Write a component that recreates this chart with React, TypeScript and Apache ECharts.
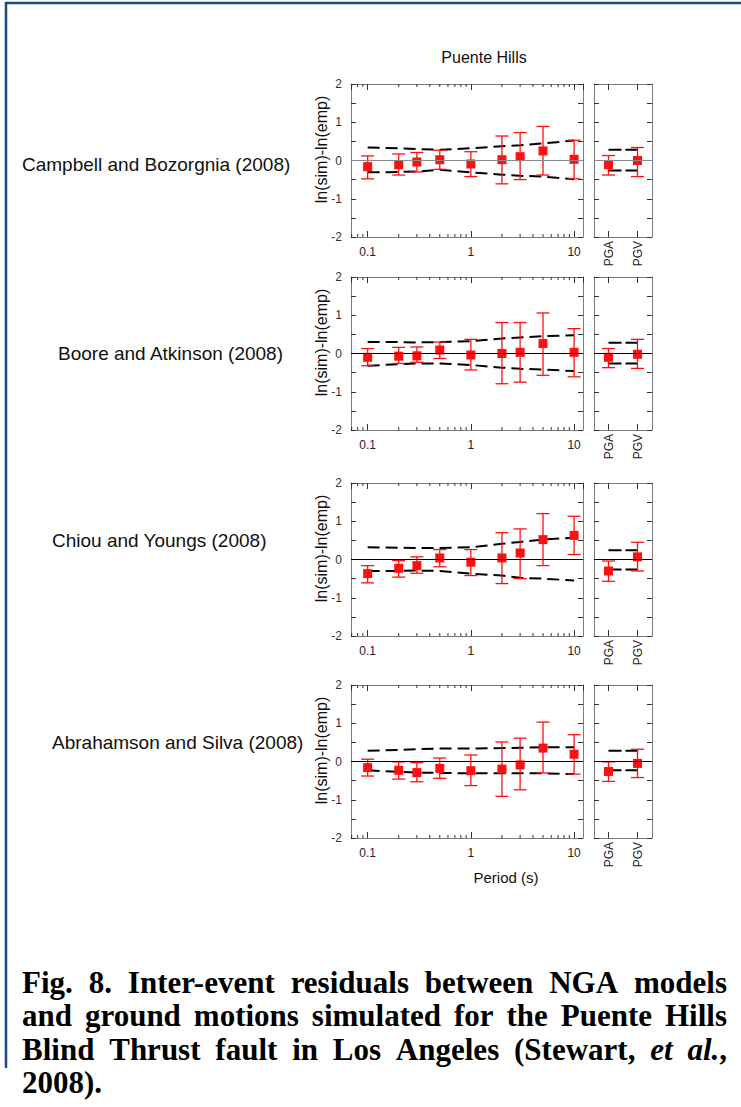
import React, { useEffect, useRef } from "react";
import * as echarts from "echarts";

// ---------- data ----------
const periods = [0.1, 0.2, 0.3, 0.5, 1, 2, 3, 5, 10];
const pgaCategories = ["PGA", "PGV"];
const minorTickValues = [0.07, 0.08, 0.09, 0.2, 0.3, 0.4, 0.5, 0.6, 0.7, 0.8, 0.9, 2, 3, 4, 5, 6, 7, 8, 9];
const modelNames = [
  "Campbell and Bozorgnia (2008)",
  "Boore and Atkinson (2008)",
  "Chiou and Youngs (2008)",
  "Abrahamson and Silva (2008)",
];
const chartTitle = "Puente Hills";
const yAxisTitle = "ln(sim)-ln(emp)";
const xAxisTitle = "Period (s)";
const captionLines = [
  "Fig. 8. Inter-event residuals between NGA models",
  "and ground motions simulated for the Puente Hills",
  "Blind Thrust fault in Los Angeles (Stewart, *et* *al.*,",
  "2008).",
];

// Campbell & Bozorgnia
const cbMean = [-0.16, -0.11, -0.04, 0.02, -0.09, 0.02, 0.10, 0.25, 0.03];
const cbUpper = [0.12, 0.17, 0.21, 0.27, 0.23, 0.64, 0.73, 0.89, 0.53];
const cbLower = [-0.48, -0.38, -0.30, -0.23, -0.42, -0.61, -0.50, -0.38, -0.48];
const cbSigmaUp = [0.34, 0.32, 0.30, 0.28, 0.32, 0.37, 0.40, 0.45, 0.52];
const cbSigmaDn = [-0.31, -0.30, -0.29, -0.24, -0.31, -0.37, -0.40, -0.42, -0.49];
const cbPgaMean = [-0.11, 0.0];
const cbPgaUpper = [0.13, 0.34];
const cbPgaLower = [-0.38, -0.42];
const cbPgaSigmaUp = [0.28, 0.28];
const cbPgaSigmaDn = [-0.26, -0.26];

// Boore & Atkinson
const baMean = [-0.10, -0.07, -0.06, 0.09, -0.04, 0.0, 0.03, 0.26, 0.03];
const baUpper = [0.13, 0.16, 0.17, 0.30, 0.37, 0.81, 0.81, 1.06, 0.65];
const baLower = [-0.32, -0.26, -0.23, -0.13, -0.43, -0.79, -0.75, -0.57, -0.61];
const baSigmaUp = [0.30, 0.30, 0.29, 0.30, 0.32, 0.39, 0.42, 0.45, 0.48];
const baSigmaDn = [-0.32, -0.28, -0.26, -0.26, -0.30, -0.37, -0.40, -0.42, -0.46];
const baPgaMean = [-0.10, -0.02];
const baPgaUpper = [0.13, 0.37];
const baPgaLower = [-0.37, -0.39];
const baPgaSigmaUp = [0.28, 0.28];
const baPgaSigmaDn = [-0.26, -0.26];

// Chiou & Youngs
const cyMean = [-0.37, -0.23, -0.16, 0.04, -0.07, 0.04, 0.17, 0.52, 0.63];
const cyUpper = [-0.16, -0.03, 0.07, 0.26, 0.26, 0.70, 0.80, 1.20, 1.13];
const cyLower = [-0.61, -0.46, -0.36, -0.19, -0.42, -0.63, -0.50, -0.16, 0.13];
const cySigmaUp = [0.32, 0.31, 0.30, 0.30, 0.32, 0.41, 0.46, 0.52, 0.57];
const cySigmaDn = [-0.30, -0.30, -0.29, -0.30, -0.37, -0.42, -0.48, -0.50, -0.55];
const cyPgaMean = [-0.30, 0.07];
const cyPgaUpper = [-0.04, 0.45];
const cyPgaLower = [-0.57, -0.30];
const cyPgaSigmaUp = [0.24, 0.24];
const cyPgaSigmaDn = [-0.26, -0.26];

// Abrahamson & Silva
const asMean = [-0.16, -0.23, -0.29, -0.18, -0.24, -0.20, -0.09, 0.35, 0.19];
const asUpper = [0.06, -0.01, -0.03, 0.09, 0.17, 0.51, 0.61, 1.03, 0.70];
const asLower = [-0.38, -0.46, -0.53, -0.44, -0.63, -0.91, -0.74, -0.30, -0.33];
const asSigmaUp = [0.28, 0.30, 0.32, 0.34, 0.34, 0.35, 0.36, 0.37, 0.37];
const asSigmaDn = [-0.23, -0.27, -0.29, -0.30, -0.31, -0.31, -0.31, -0.31, -0.33];
const asPgaMean = [-0.26, -0.05];
const asPgaUpper = [-0.01, 0.32];
const asPgaLower = [-0.52, -0.42];
const asPgaSigmaUp = [0.28, 0.28];
const asPgaSigmaDn = [-0.23, -0.23];

// ---------- layout / style ----------
const FONT = '"Liberation Sans", Arial, sans-serif';
const SERIF = '"Liberation Serif", "Times New Roman", serif';
const ROW_TOPS = [84, 277, 483, 685];
const PANEL_H = 153;
const MAIN_LEFT = 351;
const MAIN_W = 232;
const PGA_LEFT = 594;
const PGA_W = 58;
const LABEL_POS = [
  [22, 164],
  [58, 353],
  [52, 540],
  [52, 742],
];
const Y_NAME_X = 321;
const Y_NAME_SHIFT = -11;
const ZERO_COLORS = ["#8a8a8a", "#000", "#000", "#000"];
const AXIS_COLOR = "#7a7a7a";
const TICK_COLOR = "#333";
const RED = "#ff1010";
const CAPTION_SIZE = 31;

const rows = [
  { mean: cbMean, upper: cbUpper, lower: cbLower, su: cbSigmaUp, sd: cbSigmaDn, pm: cbPgaMean, pu: cbPgaUpper, pl: cbPgaLower, psu: cbPgaSigmaUp, psd: cbPgaSigmaDn },
  { mean: baMean, upper: baUpper, lower: baLower, su: baSigmaUp, sd: baSigmaDn, pm: baPgaMean, pu: baPgaUpper, pl: baPgaLower, psu: baPgaSigmaUp, psd: baPgaSigmaDn },
  { mean: cyMean, upper: cyUpper, lower: cyLower, su: cySigmaUp, sd: cySigmaDn, pm: cyPgaMean, pu: cyPgaUpper, pl: cyPgaLower, psu: cyPgaSigmaUp, psd: cyPgaSigmaDn },
  { mean: asMean, upper: asUpper, lower: asLower, su: asSigmaUp, sd: asSigmaDn, pm: asPgaMean, pu: asPgaUpper, pl: asPgaLower, psu: asPgaSigmaUp, psd: asPgaSigmaDn },
];

function errorBarRender(params: any, api: any) {
  const x = api.value(0);
  const lo = api.coord([x, api.value(1)]);
  const hi = api.coord([x, api.value(2)]);
  const w = 6.5;
  const style = { stroke: RED, lineWidth: 1.3 };
  return {
    type: "group",
    children: [
      { type: "line", shape: { x1: lo[0], y1: lo[1], x2: hi[0], y2: hi[1] }, style },
      { type: "line", shape: { x1: hi[0] - w, y1: hi[1], x2: hi[0] + w, y2: hi[1] }, style },
      { type: "line", shape: { x1: lo[0] - w, y1: lo[1], x2: lo[0] + w, y2: lo[1] }, style },
    ],
  };
}

function minorTickRender(params: any, api: any) {
  const v = api.value(0);
  const b = api.coord([v, -2]);
  const t = api.coord([v, 2]);
  const style = { stroke: TICK_COLOR, lineWidth: 1 };
  return {
    type: "group",
    children: [
      { type: "line", shape: { x1: b[0], y1: b[1], x2: b[0], y2: b[1] - 3 }, style },
      { type: "line", shape: { x1: t[0], y1: t[1], x2: t[0], y2: t[1] + 3 }, style },
    ],
  };
}

function buildCaption(): any[] {
  const canvas = document.createElement("canvas");
  const ctx = canvas.getContext("2d") as CanvasRenderingContext2D;
  const size = CAPTION_SIZE;
  const x0 = 22;
  const x1 = 727;
  const ys = [982, 1015, 1049, 1082];
  const els: any[] = [];
  captionLines.forEach((line, li) => {
    const words = line.split(" ").map((w) => {
      const segs: { text: string; italic: boolean }[] = [];
      w.split("*").forEach((s, i) => {
        if (s.length) segs.push({ text: s, italic: i % 2 === 1 });
      });
      return segs.map((s) => {
        ctx.font = `${s.italic ? "italic " : ""}bold ${size}px ${SERIF}`;
        return { ...s, width: ctx.measureText(s.text).width };
      });
    });
    const wordWidths = words.map((segs) => segs.reduce((a, s) => a + s.width, 0));
    const total = wordWidths.reduce((a, b) => a + b, 0);
    const last = li === captionLines.length - 1;
    ctx.font = `bold ${size}px ${SERIF}`;
    const gap = last || words.length < 2 ? ctx.measureText(" ").width : (x1 - x0 - total) / (words.length - 1);
    let x = x0;
    words.forEach((segs) => {
      segs.forEach((s) => {
        els.push({
          type: "text",
          x,
          y: ys[li],
          style: {
            text: s.text,
            fontSize: size,
            fontWeight: "bold",
            fontStyle: s.italic ? "italic" : "normal",
            fontFamily: SERIF,
            fill: "#000",
            textAlign: "left",
            textVerticalAlign: "middle",
          },
        });
        x += s.width;
      });
      x += gap;
    });
  });
  return els;
}

function buildOption(): any {
  const grid: any[] = [];
  const xAxis: any[] = [];
  const yAxis: any[] = [];
  const series: any[] = [];

  const logAxis = (gi: number, pos: string, labels: boolean) => ({
    gridIndex: gi,
    type: "log",
    logBase: 10,
    min: 0.069,
    max: 12.2,
    position: pos,
    axisLine: { show: true, onZero: false, lineStyle: { color: AXIS_COLOR, width: 1 } },
    axisTick: { show: true, inside: true, length: 6, lineStyle: { color: TICK_COLOR } },
    axisLabel: {
      show: labels,
      showMinLabel: false,
      showMaxLabel: false,
      fontSize: 12,
      color: "#222",
      margin: 9,
      fontFamily: FONT,
    },
    splitLine: { show: false },
  });
  const catAxis = (gi: number, pos: string, labels: boolean) => ({
    gridIndex: gi,
    type: "category",
    data: pgaCategories,
    boundaryGap: true,
    position: pos,
    axisLine: { show: true, onZero: false, lineStyle: { color: AXIS_COLOR, width: 1 } },
    axisTick: { show: true, inside: true, length: 6, alignWithLabel: true, lineStyle: { color: TICK_COLOR } },
    axisLabel: { show: labels, rotate: 90, fontSize: 12, color: "#222", margin: 4, fontFamily: FONT },
    splitLine: { show: false },
  });
  const valAxis = (gi: number, pos: string, labels: boolean) => ({
    gridIndex: gi,
    type: "value",
    min: -2,
    max: 2,
    interval: 0.5,
    position: pos,
    axisLine: { show: true, onZero: false, lineStyle: { color: AXIS_COLOR, width: 1 } },
    axisTick: { show: true, inside: true, length: 5, lineStyle: { color: TICK_COLOR } },
    axisLabel: {
      show: labels,
      fontSize: 12,
      color: "#333",
      margin: 9,
      fontFamily: FONT,
      formatter: (v: number) => (Number.isInteger(v) ? String(v) : ""),
    },
    splitLine: { show: false },
  });

  rows.forEach((row, r) => {
    const gMain = 2 * r;
    const gPga = 2 * r + 1;
    grid.push({ left: MAIN_LEFT, top: ROW_TOPS[r], width: MAIN_W, height: PANEL_H, containLabel: false, outerBoundsMode: "none" });
    grid.push({ left: PGA_LEFT, top: ROW_TOPS[r], width: PGA_W, height: PANEL_H, containLabel: false, outerBoundsMode: "none" });

    xAxis.push(logAxis(gMain, "bottom", true));
    xAxis.push(logAxis(gMain, "top", false));
    xAxis.push(catAxis(gPga, "bottom", true));
    xAxis.push(catAxis(gPga, "top", false));

    yAxis.push(valAxis(gMain, "left", true));
    yAxis.push(valAxis(gMain, "right", false));
    yAxis.push(valAxis(gPga, "left", false));
    yAxis.push(valAxis(gPga, "right", false));

    const xm = 4 * r;
    const xp = 4 * r + 2;
    const zeroLine = {
      silent: true,
      symbol: "none",
      label: { show: false },
      lineStyle: { color: ZERO_COLORS[r], width: 1, type: "solid" },
      data: [{ yAxis: 0 }],
    };
    const dash = { color: "#000", width: 2, type: [12, 6] };

    // main panel
    series.push({
      type: "line",
      xAxisIndex: xm,
      yAxisIndex: xm,
      data: periods.map((p, i) => [p, row.su[i]]),
      symbol: "none",
      lineStyle: dash,
      z: 2,
      markLine: zeroLine,
    });
    series.push({
      type: "line",
      xAxisIndex: xm,
      yAxisIndex: xm,
      data: periods.map((p, i) => [p, row.sd[i]]),
      symbol: "none",
      lineStyle: dash,
      z: 2,
    });
    series.push({
      type: "custom",
      xAxisIndex: xm,
      yAxisIndex: xm,
      renderItem: errorBarRender,
      data: periods.map((p, i) => [p, row.lower[i], row.upper[i]]),
      encode: { x: 0, y: [1, 2] },
      z: 3,
      clip: false,
    });
    series.push({
      type: "scatter",
      xAxisIndex: xm,
      yAxisIndex: xm,
      data: periods.map((p, i) => [p, row.mean[i]]),
      symbol: "rect",
      symbolSize: 9,
      itemStyle: { color: RED, opacity: 1 },
      z: 4,
    });
    series.push({
      type: "custom",
      xAxisIndex: xm,
      yAxisIndex: xm,
      renderItem: minorTickRender,
      data: minorTickValues.map((v) => [v, 0]),
      encode: { x: 0, y: 1 },
      z: 5,
      clip: false,
      silent: true,
    });

    // PGA / PGV panel
    series.push({
      type: "line",
      xAxisIndex: xp,
      yAxisIndex: xp,
      data: pgaCategories.map((c, i) => [i, row.psu[i]]),
      symbol: "none",
      lineStyle: { ...dash, type: [13, 4] },
      z: 2,
      markLine: zeroLine,
    });
    series.push({
      type: "line",
      xAxisIndex: xp,
      yAxisIndex: xp,
      data: pgaCategories.map((c, i) => [i, row.psd[i]]),
      symbol: "none",
      lineStyle: { ...dash, type: [13, 4] },
      z: 2,
    });
    series.push({
      type: "custom",
      xAxisIndex: xp,
      yAxisIndex: xp,
      renderItem: errorBarRender,
      data: pgaCategories.map((c, i) => [i, row.pl[i], row.pu[i]]),
      encode: { x: 0, y: [1, 2] },
      z: 3,
      clip: false,
    });
    series.push({
      type: "scatter",
      xAxisIndex: xp,
      yAxisIndex: xp,
      data: pgaCategories.map((c, i) => [i, row.pm[i]]),
      symbol: "rect",
      symbolSize: 9,
      itemStyle: { color: RED, opacity: 1 },
      z: 4,
    });
  });

  const graphic: any[] = [
    { type: "line", shape: { x1: 5, y1: 3, x2: 741, y2: 3 }, style: { stroke: "#1f4a82", lineWidth: 2.5 } },
    { type: "line", shape: { x1: 6, y1: 2, x2: 6, y2: 1068 }, style: { stroke: "#1f4a82", lineWidth: 2.5 } },
    {
      type: "text",
      x: 484,
      y: 57,
      style: { text: chartTitle, fontSize: 16, fontFamily: FONT, fill: "#111", textAlign: "center", textVerticalAlign: "middle" },
    },
    {
      type: "text",
      x: 506,
      y: 877,
      style: { text: xAxisTitle, fontSize: 15, fontFamily: FONT, fill: "#111", textAlign: "center", textVerticalAlign: "middle" },
    },
    ...modelNames.map((n, i) => ({
      type: "text",
      x: LABEL_POS[i][0],
      y: LABEL_POS[i][1],
      style: { text: n, fontSize: 19, fontFamily: FONT, fill: "#111", textAlign: "left", textVerticalAlign: "middle" },
    })),
    ...ROW_TOPS.map((t) => ({
      type: "text",
      x: Y_NAME_X,
      y: t + PANEL_H / 2 + Y_NAME_SHIFT,
      rotation: Math.PI / 2,
      style: { text: yAxisTitle, fontSize: 16, fontFamily: FONT, fill: "#111", textAlign: "center", textVerticalAlign: "middle" },
    })),
    ...buildCaption(),
  ];

  return {
    animation: false,
    backgroundColor: "#fff",
    textStyle: { fontFamily: FONT },
    grid,
    xAxis,
    yAxis,
    series,
    graphic,
  };
}

export default function App() {
  const ref = useRef<HTMLDivElement>(null);
  useEffect(() => {
    if (!ref.current) return;
    const chart = echarts.init(ref.current, undefined, { renderer: "svg" });
    chart.setOption(buildOption());
    return () => chart.dispose();
  }, []);
  return (
    <div
      ref={ref}
      style={{ position: "absolute", left: 0, top: 0, width: 741, height: 1107, background: "#fff" }}
    />
  );
}
